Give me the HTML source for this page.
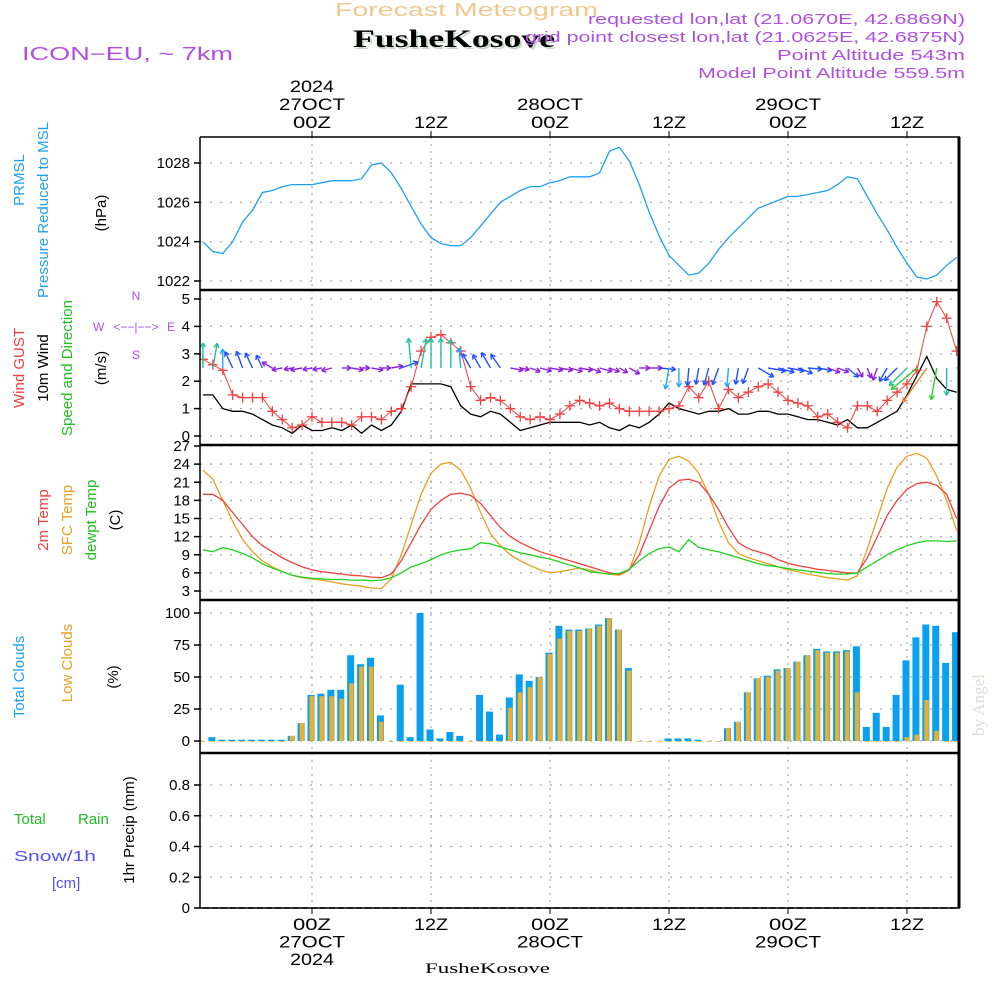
<!DOCTYPE html>
<html><head><meta charset="utf-8"><style>
html,body{margin:0;padding:0;background:#fff;}
svg{display:block;font-family:"Liberation Sans",sans-serif;}
</style></head><body>
<svg id="c" width="1000" height="1000" viewBox="0 0 1000 1000" xmlns="http://www.w3.org/2000/svg">
<text x="335" y="16" font-size="18" fill="#f0c890" textLength="263" lengthAdjust="spacingAndGlyphs">Forecast Meteogram</text>
<text x="355" y="49" font-size="25" font-weight="bold" font-family="Liberation Serif,serif" fill="#c8d8c8" textLength="202" lengthAdjust="spacingAndGlyphs">FusheKosove</text>
<text x="353" y="47" font-size="25" font-weight="bold" font-family="Liberation Serif,serif" fill="#000" textLength="202" lengthAdjust="spacingAndGlyphs">FusheKosove</text>
<text x="588" y="24" font-size="15" fill="#b050e0" textLength="377" lengthAdjust="spacingAndGlyphs">requested lon,lat (21.0670E, 42.6869N)</text>
<text x="525" y="42" font-size="15" fill="#b050e0" textLength="440" lengthAdjust="spacingAndGlyphs">grid point closest lon,lat (21.0625E, 42.6875N)</text>
<text x="777" y="60" font-size="15" fill="#b050e0" textLength="188" lengthAdjust="spacingAndGlyphs">Point Altitude 543m</text>
<text x="698" y="78" font-size="15" fill="#b050e0" textLength="267" lengthAdjust="spacingAndGlyphs">Model Point Altitude 559.5m</text>
<text x="22" y="60" font-size="18" fill="#b050e0" textLength="211" lengthAdjust="spacingAndGlyphs">ICON−EU, ~ 7km</text>
<g id="g"></g>
</svg>
<script>
const hours=[];for(let h=-11;h<=65;h++)hours.push(h);
const pressure=[1024.0,1023.5,1023.4,1024.0,1025.0,1025.6,1026.5,1026.6,1026.8,1026.9,1026.9,
1026.9,1027.0,1027.1,1027.1,1027.1,1027.2,1027.9,1028.0,1027.5,1026.7,1025.8,1024.9,
1024.2,1023.9,1023.8,1023.8,1024.2,1024.8,1025.4,1026.0,1026.3,1026.6,1026.8,1026.8,
1027.0,1027.1,1027.3,1027.3,1027.3,1027.5,1028.6,1028.8,1028.1,1026.9,1025.5,1024.3,
1023.3,1022.8,1022.3,1022.4,1022.9,1023.6,1024.2,1024.7,1025.2,1025.7,1025.9,1026.1,
1026.3,1026.3,1026.4,1026.5,1026.6,1026.9,1027.3,1027.2,1026.3,1025.4,1024.6,1023.7,
1022.9,1022.2,1022.1,1022.3,1022.8,1023.2];
const wind10m=[1.5,1.5,1.0,0.9,0.9,0.8,0.6,0.4,0.3,0.1,0.4,0.2,0.2,0.3,0.2,0.4,0.1,0.4,0.2,0.4,0.9,1.9,1.9,1.9,1.9,1.8,1.1,0.8,0.7,0.9,0.8,0.5,0.2,0.3,0.4,0.5,0.5,0.5,0.5,0.4,0.5,0.3,0.2,0.4,0.3,0.5,0.8,1.2,1.0,0.9,0.8,0.9,0.9,1.0,0.8,0.8,0.9,0.9,0.8,0.8,0.7,0.6,0.6,0.5,0.4,0.6,0.3,0.3,0.5,0.7,0.9,1.5,2.2,2.9,2.1,1.7,1.6];
const gust=[2.8,2.6,2.4,1.5,1.4,1.4,1.4,0.9,0.6,0.3,0.4,0.7,0.5,0.5,0.5,0.4,0.7,0.7,0.6,0.9,1.0,1.8,3.1,3.6,3.7,3.4,3.1,1.8,1.3,1.4,1.3,1.0,0.7,0.6,0.7,0.6,0.8,1.1,1.3,1.2,1.1,1.2,1.0,0.9,0.9,0.9,0.9,1.0,1.1,1.8,1.4,2.0,1.0,1.7,1.4,1.6,1.8,1.9,1.6,1.3,1.2,1.1,0.7,0.8,0.5,0.3,1.1,1.1,0.9,1.3,1.6,1.9,2.4,4.0,4.9,4.3,3.1];
const windDir=[90,80,90,115,110,115,115,150,190,190,190,190,190,195,0,350,0,350,0,10,20,95,80,90,90,90,95,120,120,120,125,350,350,340,345,350,350,345,350,340,345,340,330,330,0,0,355,260,270,265,260,255,250,265,260,250,330,350,345,350,340,355,350,340,340,320,300,290,250,240,225,225,220,235,260,270,0];
const temp2m=[19,19,18,16,14,12,10.5,9.5,8.5,7.7,7,6.5,6.2,6,5.8,5.6,5.5,5.3,5.2,5.8,8,11,14,16.5,18,19,19.2,18.8,17.5,15.5,13.5,12,11,10.2,9.5,9,8.5,8,7.5,7,6.5,6,5.8,6.5,9,13,17,20,21.3,21.5,21,19,16.5,13.5,11,10,9.5,9,8.2,7.6,7.2,6.9,6.6,6.4,6.2,6,6,8.5,12,15.5,18,19.8,20.8,21,20.5,19,15];
const tempSfc=[23,21.5,18,14.5,11.5,9.5,8,7,6.2,5.6,5.2,5,4.8,4.5,4.2,4,3.8,3.5,3.4,5,9,14,19,22.5,24,24.3,23,20,16,12.5,10.5,9,8,7.2,6.5,6,6.2,6.5,6.8,6.5,6,5.8,5.6,6.5,11,17,22,24.8,25.3,24.5,22.5,19,14.5,11,9.2,8.5,8,7.5,7,6.5,6.2,5.8,5.5,5.2,5,4.8,5.5,10,15,20,23.5,25.3,25.8,25,22,18,13];
const dewpt=[9.8,9.5,10.2,9.8,9.2,8.5,7.5,6.8,6.2,5.6,5.3,5.1,5,4.9,4.9,4.8,4.8,4.7,4.8,5.2,6,7,7.5,8.2,9,9.5,9.8,10,11,10.8,10.3,9.8,9.3,9,8.6,8.3,7.8,7.3,6.8,6.2,6,5.8,5.9,6.6,8,9.2,10,10.3,9.5,11.5,10.2,9.8,9.5,9,8.5,8,7.5,7.2,7,6.7,6.5,6.3,6.1,5.9,5.8,5.8,6,7,8,9,9.8,10.5,11,11.3,11.3,11.2,11.3];
const totalCloud=[0,3,1,1,1,1,1,1,1,4,14,36,37,40,40,67,60,65,20,0,44,3,100,9,2,7,4,0,36,23,5,34,52,47,50,69,90,87,87,88,91,96,87,57,0,0,0,2,2,2,1,0,0,10,15,38,49,51,56,57,62,67,72,70,70,71,74,11,22,11,36,63,81,91,90,61,85];
const lowCloud=[0,0,0,0,0,0,0,0,0,4,14,35,35,35,33,45,58,58,15,0,0,0,0,0,0,0,0,0,0,0,0,26,38,42,50,68,80,86,86,88,90,96,87,55,0,0,0,0,0,0,0,0,0,10,15,38,49,50,55,57,62,67,71,69,69,70,38,0,0,0,0,3,5,32,8,0,0];
const precip=hours.map(()=>0);
const pTicks=[1022,1024,1026,1028],wTicks=[0,1,2,3,4,5],tTicks=[3,6,9,12,15,18,21,24,27],cTicks=[0,25,50,75,100],rTicks=[0,0.2,0.4,0.6,0.8];

const NS='http://www.w3.org/2000/svg',G=document.getElementById('g');
function el(t,a,p){const e=document.createElementNS(NS,t);for(const k in a)e.setAttribute(k,a[k]);(p||G).appendChild(e);return e;}
const L=200,R=960;
const X=h=>312+h*119/12;
const lin=(v0,y0,v1,y1)=>v=>y0+(v-v0)*(y1-y0)/(v1-v0);
const yP=lin(1022,281,1028,163),yW=lin(0,436,5,299),yT=lin(3,591,27,446),yC=lin(0,741,100,613),yR=lin(0,908,0.8,785);
const panels=[[137,290,yP,pTicks,v=>v],[290,445,yW,wTicks,v=>v],[445,600,yT,tTicks,v=>v],[600,753,yC,cTicks,v=>v],[753,908,yR,rTicks,v=>v===0?'0':v.toFixed(1)]];
const grids=[0,12,24,36,48,60];
panels.forEach((p,i)=>{
  const gp=el('g',{});
  
  
  grids.forEach(h=>el('line',{x1:X(h),x2:X(h),y1:p[0],y2:p[1],stroke:'#aaa','stroke-dasharray':'2,5','stroke-width':1.2},gp));
  p[3].forEach(v=>{const y=p[2](v);
    el('line',{x1:L,x2:R,y1:y,y2:y,stroke:'#aaa','stroke-dasharray':'2,8','stroke-width':1.2},gp);
    el('line',{x1:L-6,x2:L,y1:y,y2:y,stroke:'#000','stroke-width':1.5},gp);
    const t=el('text',{x:L-10,y:y+5,'font-size':15,'text-anchor':'end'},gp);t.textContent=p[4](v);
  });
});
function path(arr,ys,color,name,w){const d=arr.map((v,i)=>(i?'L':'M')+X(hours[i]).toFixed(1)+','+ys(v).toFixed(1)).join('');
  const e=el('path',{d:d,fill:'none',stroke:color,'stroke-width':w||1.3});
  
  
  return e;}
const clip=el('clipPath',{id:'cl'});el('rect',{x:L,y:130,width:R-L,height:790},clip);
const C=el('g',{'clip-path':'url(#cl)'});
function inC(e){C.appendChild(e);}
inC(path(pressure,yP,'#1ea0f0','pressure-line'));
inC(path(wind10m,yW,'#000','wind-10m-line'));
inC(path(gust,yW,'#f04040','wind-gust-line',1));
gust.forEach((v,i)=>{const x=X(hours[i]),y=yW(v);
  const g=el('g',{stroke:'#f04040','stroke-width':1.3},C);
  
  
  el('line',{x1:x-5,x2:x+5,y1:y,y2:y},g);el('line',{x1:x,x2:x,y1:y-5,y2:y+5},g);});
function wcol(s){return s<0.6?'#9020e0':s<1?'#2050ff':s<1.5?'#20a8ff':s<2?'#20c0a0':s<2.5?'#30d030':s<3?'#f08030':'#e8d030';}
windDir.forEach((d,i)=>{const s=wind10m[i],len=7+s*12,a=d*Math.PI/180;
  const x0=X(hours[i]),y0=368,x1=x0+len*Math.cos(a),y1=y0-len*Math.sin(a);
  const c=wcol(s);const g=el('g',{stroke:c,'stroke-width':1.4,fill:'none'},C);
  
  
  el('line',{x1:x0,y1:y0,x2:x1,y2:y1},g);
  const b=Math.atan2(y0-y1,x1-x0);
  [2.6,-2.6].forEach(o=>el('line',{x1:x1,y1:y1,x2:x1-5*Math.cos(b+o*0.2),y2:y1+5*Math.sin(b+o*0.2)},g));
});
inC(path(tempSfc,yT,'#e8a020','sfc-temp-line'));
inC(path(temp2m,yT,'#f04040','temp-2m-line'));
inC(path(dewpt,yT,'#20d020','dewpoint-line'));
totalCloud.forEach((v,i)=>{const x=X(hours[i])-1;
  const b=el('rect',{x:x-3.5,y:yC(v),width:7,height:yC(0)-yC(v),fill:'#0aa0f0'},C);
  
  
  const l=lowCloud[i];
  const o=el('rect',{x:x-1.5,y:yC(l),width:4.5,height:Math.max(yC(0)-yC(l),0.8),fill:'#e8b030'},C);
  
  
});
const pl=path(precip,yR,'#000','precip-line',1.5);pl.setAttribute('stroke-dasharray','6,3');C.appendChild(pl);
[137,290,445,600,753,908].forEach((y,i)=>el('line',{x1:L,x2:R,y1:y,y2:y,stroke:'#000','stroke-width':(i==0||i==5)?1.5:2.5}));
el('line',{x1:L,x2:L,y1:137,y2:908,stroke:'#000','stroke-width':1.5});
el('line',{x1:R-1,x2:R-1,y1:137,y2:908,stroke:'#000','stroke-width':3});
function lab(x,y,s,name){const w={'2024':44,'27OCT':66,'28OCT':66,'29OCT':66,'00Z':38,'12Z':34}[s]||40;
  const e=el('text',{x:x-w/2,y:y,'font-size':17,textLength:w,lengthAdjust:'spacingAndGlyphs'});e.textContent=s;
  
  }
const topLab=[[0,['2024','27OCT','00Z']],[12,['12Z']],[24,['28OCT','00Z']],[36,['12Z']],[48,['29OCT','00Z']],[60,['12Z']]];
topLab.forEach(t=>{t[1].slice().reverse().forEach((s,k)=>lab(X(t[0]),128-k*18,s,'top-time-label'));
  el('line',{x1:X(t[0]),x2:X(t[0]),y1:131,y2:137,stroke:'#000'});});
const botLab=[[0,['00Z','27OCT','2024']],[12,['12Z']],[24,['00Z','28OCT']],[36,['12Z']],[48,['00Z','29OCT']],[60,['12Z']]];
botLab.forEach(t=>{t[1].forEach((s,k)=>lab(X(t[0]),930+k*17.5,s,'bottom-time-label'));
  el('line',{x1:X(t[0]),x2:X(t[0]),y1:908,y2:914,stroke:'#000'});});
function vt(x,y,s,c,name,fs){const e=el('text',{x:x,y:y,'font-size':fs||15,fill:c,'text-anchor':'middle',transform:'rotate(-90 '+x+' '+y+')'});e.textContent=s;
  
  return e;}
function ht(x,y,s,c,name,fs,anc){const e=el('text',{x:x,y:y,'font-size':fs||15,fill:c,'text-anchor':anc||'start'});e.textContent=s;
  
  return e;}
vt(24,180,'PRMSL','#1ea0f0','prmsl-label');
vt(48,210,'Pressure Reduced to MSL','#1ea0f0','pressure-label');
vt(106,213,'(hPa)','#000','hpa-label');
vt(24,368,'Wind GUST','#f04040','gust-label');
vt(48,368,'10m Wind','#000','wind-label');
vt(72,368,'Speed and Direction','#20c020','direction-label');
vt(106,368,'(m/s)','#000','ms-label');
ht(93,331,'W','#b050e0','compass-w',12);ht(167,331,'E','#b050e0','compass-e',12);
ht(136,300,'N','#b050e0','compass-n',12,'middle');ht(136,359,'S','#b050e0','compass-s',12,'middle');
ht(136,331,'<−−|−−>','#b050e0','compass',12,'middle');
vt(48,520,'2m Temp','#f04040','temp2m-label');
vt(72,520,'SFC Temp','#e8a020','sfc-label');
vt(96,520,'dewpt Temp','#20c020','dewpt-label');
vt(120,520,'(C)','#000','c-label');
vt(24,677,'Total Clouds','#1ea0f0','total-clouds-label');
vt(72,663,'Low Clouds','#e8a020','low-clouds-label');
vt(118,677,'(%)','#000','pct-label');
ht(14,824,'Total','#20c020','rain-label-total');
ht(78,824,'Rain','#20c020','rain-label');
const sn=ht(14,861,'Snow/1h','#5050ff','snow-label',15);sn.setAttribute('textLength','82');sn.setAttribute('lengthAdjust','spacingAndGlyphs');
ht(52,888,'[cm]','#5050ff','cm-label');
vt(134,830,'1hr Precip (mm)','#000','precip-label');
const f=ht(425,973,'FusheKosove','#000','footer-station',15);f.setAttribute('font-family','Liberation Serif,serif');f.setAttribute('textLength','125');f.setAttribute('lengthAdjust','spacingAndGlyphs');
const a=vt(984,705,'by Angel','#d8e0d8','signature',17);a.setAttribute('font-family','Liberation Serif,serif');
</script>
</body></html>
